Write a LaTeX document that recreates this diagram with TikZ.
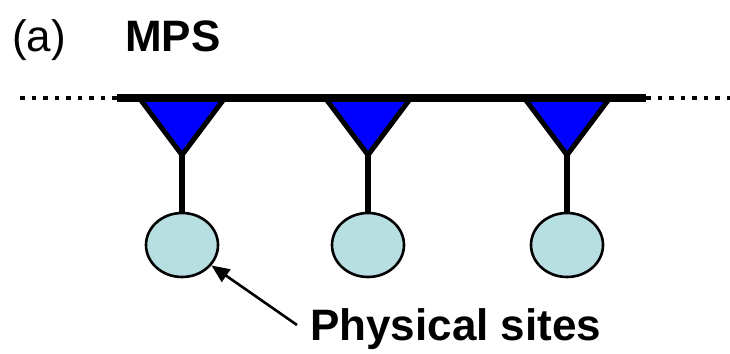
\documentclass[tikz,border=0pt]{standalone}
\usepackage{fontspec}
\setmainfont{Liberation Sans}
\usetikzlibrary{shapes.geometric,arrows.meta}
\definecolor{sitefill}{RGB}{183,222,225}
\definecolor{tensorblue}{RGB}{0,0,255}
\tikzset{
  bond/.style={line width=8pt},
  openbond/.style={line width=4pt, dash pattern=on 4.5pt off 7pt},
  tensor/.style={fill=tensorblue, draw=black, line width=5pt, line join=round},
  leg/.style={line width=6pt},
  site/.style={ellipse, draw=black, line width=2.6pt, fill=sitefill,
               minimum width=72pt, minimum height=64pt, inner sep=0pt},
  label/.style={anchor=base west, inner sep=0pt, font=\fontsize{44}{50}\selectfont},
  pointer/.style={line width=2.6pt, -{Triangle[length=18pt,width=15pt]}}
}
\begin{document}
\begin{tikzpicture}[x=1pt, y=-1pt]
  \useasboundingbox (0,0) rectangle (730,353);

  % titles
  \node[label] (tag) at (12,52) {(a)};
  \node[label, font=\fontsize{44}{50}\selectfont\bfseries] (title) at (125,52) {MPS};

  % open ends of the chain
  \coordinate (leftend) at (20,98);
  \coordinate (chainL) at (117,98);
  \coordinate (chainR) at (646,98);
  \coordinate (rightend) at (730,98);
  \draw[openbond] (leftend) -- (chainL);
  \draw[openbond] (chainR) -- (rightend);

  % tensors, legs and physical sites
  \foreach \i/\x in {1/182, 2/368, 3/567} {
    \draw[tensor] (\x-42,99) -- (\x,155) -- (\x+42,99) -- cycle;
    \coordinate (apex\i) at (\x,155);
    \node[site] (s\i) at (\x,245) {};
    \draw[leg] (apex\i) -- (s\i.north);
  }

  % virtual bond
  \draw[bond] (chainL) -- (chainR);

  % annotation
  \node[label, font=\fontsize{44}{50}\selectfont\bfseries] (phys) at (310,340) {Physical sites};
  \coordinate (tail) at (297,325);
  \draw[pointer] (tail) -- (s1);
\end{tikzpicture}
\end{document}
